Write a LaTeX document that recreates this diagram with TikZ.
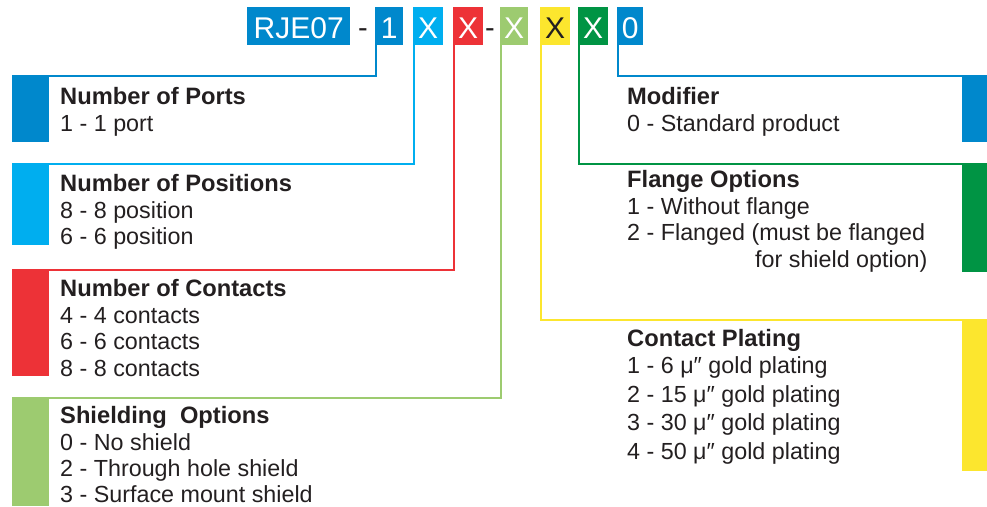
\documentclass[tikz,border=0pt]{standalone}
\usepackage{fontspec}
\setmainfont{Liberation Sans}
\definecolor{cblue}{RGB}{0,136,204}
\definecolor{clblue}{RGB}{0,174,239}
\definecolor{cred}{RGB}{237,50,55}
\definecolor{clgreen}{RGB}{157,203,112}
\definecolor{cyellow}{RGB}{252,230,46}
\definecolor{cgreen}{RGB}{0,148,68}
\definecolor{ctext}{RGB}{35,31,32}
\begin{document}
\begin{tikzpicture}[x=1pt,y=-1pt,
  codebox/.style={anchor=north west, inner sep=0pt, minimum height=38pt, text height=24pt, text depth=0pt, text=white, font=\fontsize{30}{30}\selectfont},
  dashtxt/.style={anchor=base, inner sep=0pt, text=ctext, font=\fontsize{29}{29}\selectfont},
  lbar/.style={anchor=north west, inner sep=0pt, minimum width=37pt},
  rbar/.style={anchor=north east, inner sep=0pt, minimum width=25pt},
  ttl/.style={anchor=base west, inner sep=0pt, text=ctext, font=\fontsize{23.7}{23.7}\selectfont\bfseries},
  opt/.style={anchor=base west, inner sep=0pt, text=ctext, font=\fontsize{23.3}{23.3}\selectfont},
  conn/.style={line width=2pt}
]
\useasboundingbox (0,0) rectangle (987,506);

% code boxes
\node[codebox, fill=cblue, minimum width=103pt] (crje) at (247,7) {RJE07};
\node[dashtxt] (d1) at (363,37) {-};
\node[codebox, fill=cblue, minimum width=28pt] (c1) at (375,7) {1};
\node[codebox, fill=clblue, minimum width=30pt] (c2) at (413,7) {X};
\node[codebox, fill=cred, minimum width=30pt] (c3) at (453,7) {X};
\node[dashtxt] (d2) at (490,37) {-};
\node[codebox, fill=clgreen, minimum width=28pt] (c4) at (500,7) {X};
\node[codebox, fill=cyellow, minimum width=30pt, text=ctext] (c5) at (540,7) {X};
\node[codebox, fill=cgreen, minimum width=30pt] (c6) at (578,7) {X};
\node[codebox, fill=cblue, minimum width=26pt] (c7) at (617,7) {0};

% left bars
\node[lbar, fill=cblue, minimum height=67pt] (bports) at (12,75) {};
\node[lbar, fill=clblue, minimum height=82pt] (bpos) at (12,163) {};
\node[lbar, fill=cred, minimum height=107pt] (bcont) at (12,269) {};
\node[lbar, fill=clgreen, minimum height=109pt] (bshield) at (12,397) {};
% right bars
\node[rbar, fill=cblue, minimum height=67pt] (bmod) at (987,75) {};
\node[rbar, fill=cgreen, minimum height=109pt] (bflange) at (987,163) {};
\node[rbar, fill=cyellow, minimum height=152pt] (bplate) at (987,319) {};

% connectors
\draw[conn, cblue] ([xshift=1pt]c1.south west) |- ([yshift=-1pt]bports.north west);
\draw[conn, clblue] ([xshift=1pt]c2.south west) |- ([yshift=-1pt]bpos.north west);
\draw[conn, cred] ([xshift=1pt]c3.south west) |- ([yshift=-1pt]bcont.north west);
\draw[conn, clgreen] ([xshift=1pt]c4.south west) |- ([yshift=-1pt]bshield.north west);
\draw[conn, cyellow] ([xshift=1pt]c5.south west) |- ([yshift=-1pt]bplate.north east);
\draw[conn, cgreen] ([xshift=1pt]c6.south west) |- ([yshift=-1pt]bflange.north east);
\draw[conn, cblue] ([xshift=1pt]c7.south west) |- ([yshift=-1pt]bmod.north east);

% left texts
\node[ttl] (tports) at (60,104.5) {Number of Ports};
\node[opt] (tports1) at (60,131.5) {1 - 1 port};

\node[ttl] (tpos) at (60,191.5) {Number of Positions};
\node[opt] (tpos1) at (60,218) {8 - 8 position};
\node[opt] (tpos2) at (60,244.5) {6 - 6 position};

\node[ttl] (tcont) at (60,296.5) {Number of Contacts};
\node[opt] (tcont1) at (60,323) {4 - 4 contacts};
\node[opt] (tcont2) at (60,349.5) {6 - 6 contacts};
\node[opt] (tcont3) at (60,376) {8 - 8 contacts};

\node[ttl] (tsh) at (60,423.5) {Shielding\ \ Options};
\node[opt] (tsh1) at (60,450) {0 - No shield};
\node[opt] (tsh2) at (60,476.5) {2 - Through hole shield};
\node[opt] (tsh3) at (60,502.5) {3 - Surface mount shield};

% right texts
\node[ttl] (tmod) at (627,104.5) {Modifier};
\node[opt] (tmod1) at (627,131.5) {0 - Standard product};

\node[ttl] (tfl) at (627,187.5) {Flange Options};
\node[opt] (tfl1) at (627,214) {1 - Without flange};
\node[opt] (tfl2) at (627,240.5) {2 - Flanged (must be flanged};
\node[opt] (tfl3) at (755,267.5) {for shield option)};

\node[ttl] (tpl) at (627,346.5) {Contact Plating};
\node[opt] (tpl1) at (627,373.5) {1 - 6 μ″ gold plating};
\node[opt] (tpl2) at (627,402) {2 - 15 μ″ gold plating};
\node[opt] (tpl3) at (627,430.5) {3 - 30 μ″ gold plating};
\node[opt] (tpl4) at (627,459) {4 - 50 μ″ gold plating};
\end{tikzpicture}
\end{document}
